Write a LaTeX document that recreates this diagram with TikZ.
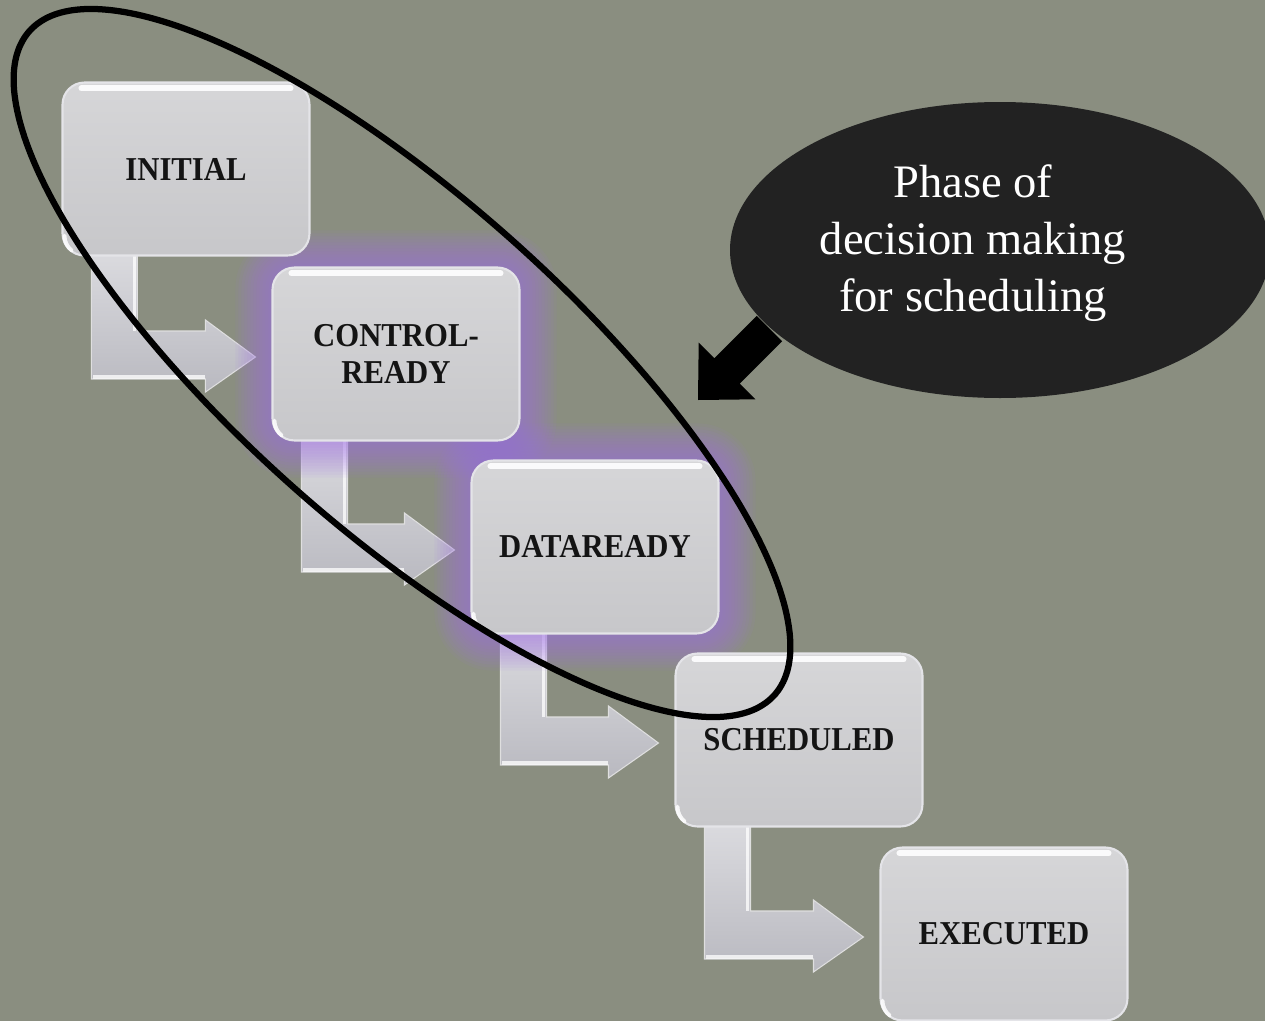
\documentclass[tikz,border=0pt]{standalone}
\usepackage{fontspec}
\setmainfont{Liberation Serif}
\newfontfamily\stagefont{Liberation Serif}[FakeStretch=0.92]
\usetikzlibrary{calc}

\pgfdeclarelayer{bglayer}
\pgfdeclarelayer{arrowlayer}
\pgfdeclarelayer{glowlayer}
\pgfsetlayers{bglayer,arrowlayer,glowlayer,main}

\definecolor{slate}{HTML}{8A8E80}
\definecolor{stagetop}{HTML}{D6D6D8}
\definecolor{stagebottom}{HTML}{C7C7CA}
\definecolor{stagerim}{HTML}{E4E4E8}
\definecolor{glowviolet}{HTML}{A070E8}
\definecolor{calloutfill}{HTML}{222222}
\definecolor{arrowlight}{HTML}{DCDCE0}
\definecolor{arrowdark}{HTML}{B9B9C0}

\begin{document}
\begin{tikzpicture}[x=0.02cm, y=-0.02cm,
  stagebox/.style={rectangle, rounded corners=0.44cm,
    minimum width=4.94cm, minimum height=3.46cm, inner sep=0pt,
    top color=stagetop, bottom color=stagebottom,
    draw=stagerim, line width=1.2pt, align=center,
    font=\stagefont\bfseries\fontsize{19}{21}\selectfont, text=black!92},
  benttail/.style={top color=arrowlight, bottom color=arrowdark,
    draw=white!75!gray, line width=0.6pt},
  tailshine/.style={white, opacity=0.75, line width=1.8pt},
  topshine/.style={white, opacity=0.9, line width=3.4pt, line cap=round},
  cornershine/.style={white, opacity=0.85, line width=2.2pt, line cap=round},
  calloutshape/.style={fill=calloutfill},
  callouttext/.style={align=center, text=white,
    font=\fontsize{26.5}{32.3}\selectfont},
  pointer/.style={fill=black},
  phaseloop/.style={draw=black, line width=0.125cm}
]
\useasboundingbox (0,0) rectangle (1265,1021);

\begin{pgfonlayer}{bglayer}
  \fill[slate] (0,0) rectangle (1265,1021);
\end{pgfonlayer}

% the five stages of a task
\node[stagebox] (init)  at (186,169) {INITIAL};
\node[stagebox] (ctrl)  at (396,354) {CONTROL-\\READY};
\node[stagebox] (data)  at (595,547) {DATAREADY};
\node[stagebox] (sched) at (799,740) {SCHEDULED};
\node[stagebox] (exec)  at (1004,934) {EXECUTED};

% glossy highlights on every stage
\foreach \n in {init,ctrl,data,sched,exec} {
  \draw[topshine] ($(\n.north west)+(20,7)$) -- ($(\n.north east)+(-20,7)$);
  \draw[cornershine] ($(\n.south west)+(3,-21)$)
    arc[start angle=180, end angle=128, radius=19];
}

% violet halo round the two stages that are being decided on
\begin{pgfonlayer}{glowlayer}
  \foreach \n in {ctrl,data} {
    \foreach \k [evaluate=\k as \rr using 0.44+0.06*\k] in {1,...,12} {
      \fill[glowviolet, opacity=0.065, rounded corners=\rr cm]
        ($(\n.north west)+(-3*\k,-3*\k)$) rectangle ($(\n.south east)+(3*\k,3*\k)$);
    }
  }
\end{pgfonlayer}

% bent arrows from each stage to the next
\begin{pgfonlayer}{arrowlayer}
  \foreach \a/\b in {init/ctrl, ctrl/data, data/sched, sched/exec} {
    \coordinate (\a-s1) at ($(\a.south west)+(30,-10)$);
    \coordinate (\a-s2) at ($(\a.south west)+(76,-10)$);
    \coordinate (\a-su) at ($(\b.west)+(0,-23)$);
    \coordinate (\a-sd) at ($(\b.west)+(0,25)$);
    \coordinate (\a-hu) at ($(\b.west)+(-66,-34)$);
    \coordinate (\a-hd) at ($(\b.west)+(-66,38)$);
    \coordinate (\a-tip) at ($(\b.west)+(-16,3)$);
    \filldraw[benttail] (\a-s1) -- (\a-s1 |- \a-sd) -- (\a-hd |- \a-sd)
      -- (\a-hd) -- (\a-tip) -- (\a-hu) -- (\a-hu |- \a-su)
      -- (\a-s2 |- \a-su) -- (\a-s2) -- cycle;
    \draw[tailshine] ($(\a-s1 |- \a-sd)+(2,-2)$) -- ($(\a-hd |- \a-sd)+(0,-2)$);
    \draw[tailshine] ($(\a-s2)+(-3,0)$) -- ($(\a-s2 |- \a-su)+(-3,0)$);
  }
\end{pgfonlayer}

% callout bubble with its pointer
\fill[calloutshape] (1000,250) ellipse [x radius=270, y radius=148];
\node[callouttext] (phase) at (973,243) {Phase of\\decision making\\for scheduling};
\coordinate (aim) at (698,400);
\fill[pointer] (aim) -- ($(aim)+(57.3,-0.7)$) -- ($(aim)+(41.7,-16.3)$)
  -- ($(aim)+(84.1,-58.7)$) -- ($(aim)+(58.7,-84.1)$)
  -- ($(aim)+(16.3,-41.7)$) -- ($(aim)+(0.7,-57.3)$) -- cycle;

% loop round the decision-making phase
\draw[phaseloop] plot[domain=0:360, samples=200, smooth]
  ({402+499*cos(\x)*0.7466-165*sin(\x)*0.6652},
   {363+499*cos(\x)*0.6652+165*sin(\x)*0.7466}) -- cycle;
\end{tikzpicture}
\end{document}
